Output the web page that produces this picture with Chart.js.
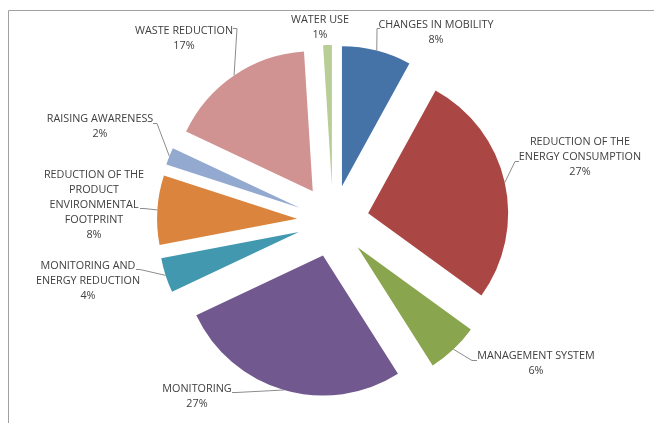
<!DOCTYPE html>
<html>
<head>
<meta charset="utf-8">
<title>Measures</title>
<script src="https://cdn.jsdelivr.net/npm/chart.js@4.4.0/dist/chart.umd.min.js"></script>
<style>
  html, body { margin: 0; padding: 0; background: #fff; }
  #wrap { width: 654px; height: 423px; }
</style>
</head>
<body>
<div id="wrap"><canvas id="pieChart" width="654" height="423"></canvas></div>
<script>
// Data (clockwise from 12 o'clock)
const categories = [
    ['CHANGES IN MOBILITY'],
    ['REDUCTION OF THE', 'ENERGY CONSUMPTION'],
    ['MANAGEMENT SYSTEM'],
    ['MONITORING'],
    ['MONITORING AND', 'ENERGY REDUCTION'],
    ['REDUCTION OF THE', 'PRODUCT', 'ENVIRONMENTAL', 'FOOTPRINT'],
    ['RAISING AWARENESS'],
    ['WASTE REDUCTION'],
    ['WATER USE']
];
const shares = [8, 27, 6, 27, 4, 8, 2, 17, 1];
const sliceColors = ['#4572A7', '#AA4643', '#89A54E', '#71588F', '#4198AF', '#DB843D', '#93A9CF', '#D19392', '#B9CD96'];

// Layout of the data labels: centre of first text line, and leader hook [elbowX, elbowY, stubX]
const labelAt = [[436, 25], [580, 142], [536, 356], [197, 389], [88, 266], [94, 175], [100, 119], [184, 31], [320, 20]];
const hookAt = [[377, 28, 380], [515, 161, 519], [472, 360, 477], [236, 392, 232], [140, 269, 136], [144, 208, 140], [157, 123, 153], [237, 28, 233], null];

const EXPLODE = 36;     // distance each slice is pulled out
const LINE_H = 15;

// Pull every slice out along its middle angle (Excel style explode)
const explodePlugin = {
    id: 'explode',
    afterDatasetUpdate(chart, args) {
        args.meta.data.forEach(arc => {
            const mid = (arc.startAngle + arc.endAngle) / 2;
            arc.x += Math.cos(mid) * EXPLODE;
            arc.y += Math.sin(mid) * EXPLODE;
        });
    }
};

// Grey frame round the chart
const framePlugin = {
    id: 'frame',
    beforeDraw(chart) {
        const ctx = chart.ctx;
        ctx.save();
        ctx.strokeStyle = '#a0a0a0';
        ctx.lineWidth = 1;
        ctx.beginPath();
        ctx.moveTo(8.5, chart.height);
        ctx.lineTo(8.5, 10.5);
        ctx.lineTo(chart.width, 10.5);
        ctx.stroke();
        ctx.restore();
    }
};

// Outside labels with leader lines
const labelPlugin = {
    id: 'outLabels',
    afterDraw(chart) {
        const ctx = chart.ctx;
        const arcs = chart.getDatasetMeta(0).data;
        const total = shares.reduce((a, b) => a + b, 0);
        ctx.save();
        ctx.font = '10.8px "Open Sans"';
        ctx.fillStyle = '#404040';
        ctx.textAlign = 'center';
        ctx.textBaseline = 'middle';
        arcs.forEach((arc, i) => {
            const hook = hookAt[i];
            if (hook) {
                const mid = (arc.startAngle + arc.endAngle) / 2;
                const px = arc.x + Math.cos(mid) * arc.outerRadius;
                const py = arc.y + Math.sin(mid) * arc.outerRadius;
                ctx.strokeStyle = '#8c8c8c';
                ctx.lineWidth = 1;
                ctx.beginPath();
                ctx.moveTo(px, py);
                ctx.lineTo(hook[0], hook[1] + 0.5);
                ctx.lineTo(hook[2], hook[1] + 0.5);
                ctx.stroke();
            }
            const lines = categories[i].concat([Math.round(shares[i] / total * 100) + '%']);
            lines.forEach((t, k) => {
                ctx.fillText(t, labelAt[i][0], labelAt[i][1] + k * LINE_H);
            });
        });
        ctx.restore();
    }
};

const ctx = document.getElementById('pieChart').getContext('2d');
const pieChart = new Chart(ctx, {
    type: 'pie',
    data: {
        labels: categories,
        datasets: [{
            data: shares,
            backgroundColor: sliceColors,
            borderWidth: 0
        }]
    },
    options: {
        responsive: false,
        animation: false,
        radius: 140,
        layout: { padding: { left: 12, right: 0, top: 19, bottom: 0 } },
        plugins: {
            legend: { display: false },
            tooltip: { enabled: false }
        }
    },
    plugins: [explodePlugin, framePlugin, labelPlugin]
});
</script>
</body>
</html>
